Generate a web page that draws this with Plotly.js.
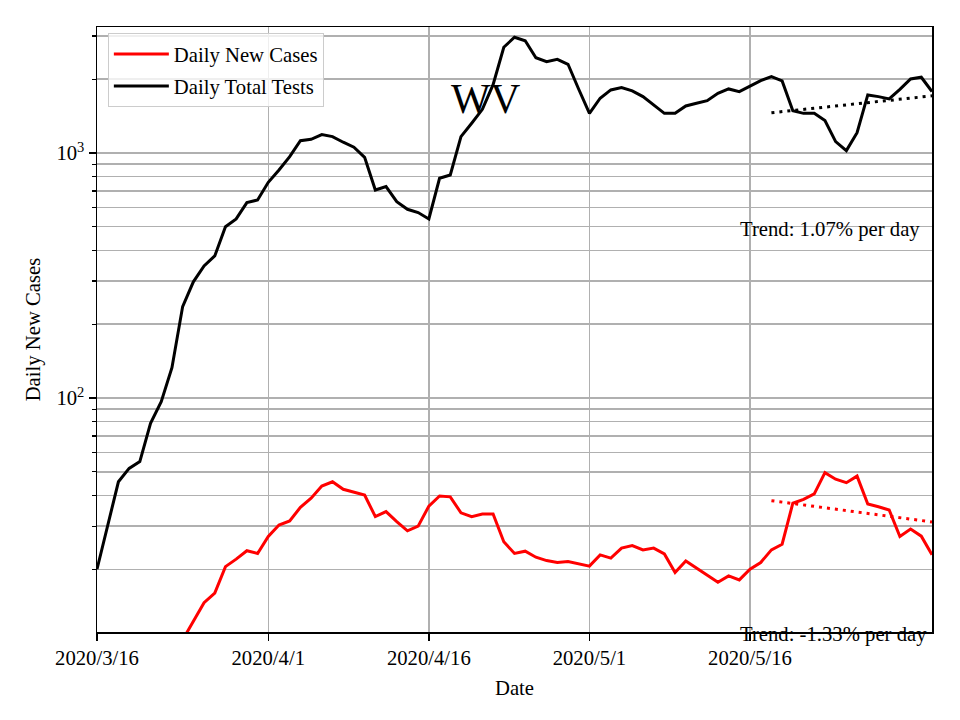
<!DOCTYPE html>
<html>
<head>
<meta charset="utf-8">
<script src="https://cdn.plot.ly/plotly-3.0.1.min.js"></script>
<style>html,body{margin:0;padding:0;background:#fff}#chart{width:960px;height:720px}</style>
</head>
<body>
<div id="chart"></div>
<script>
// Daily dates 2020-03-16 .. 2020-06-02
const startDate = '2020-03-16';
const nDays = 79;
const dates = [];
for (let i = 0; i < nDays; i++) {
  const d = new Date(Date.UTC(2020, 2, 16 + i));
  dates.push(d.toISOString().slice(0, 10));
}

// Daily Total Tests (from 2020-03-16)
const totalTests = [20.0, 30, 45.5, 51.6, 55, 78.8, 96.6, 133, 236, 298,
  346, 380, 500, 538, 627, 643, 759, 852, 966, 1122,
  1137, 1188, 1166, 1106, 1055, 960, 706, 729, 633, 589,
  571, 538, 788, 813, 1166, 1322, 1507, 1900, 2700, 2966,
  2870, 2447, 2358, 2411, 2301, 1819, 1451, 1672, 1808, 1848,
  1791, 1698, 1570, 1451, 1451, 1555, 1596, 1634, 1752, 1825,
  1780, 1878, 1974, 2048, 1967, 1488, 1451, 1451, 1355, 1112,
  1022, 1210, 1725, 1698, 1661, 1819, 2005, 2037, 1780];

// Daily New Cases (from 2020-03-24)
const casesStart = 8;
const newCases = [10.3, 12.3, 14.6, 16.0, 20.5, 22.0, 23.8, 23.2, 27.2, 30.3,
  31.5, 35.8, 39.0, 43.7, 45.5, 42.4, 41.2, 40.2, 32.8, 34.4,
  31.3, 28.7, 30.0, 36.2, 39.8, 39.5, 34.0, 32.8, 33.6, 33.6,
  25.9, 23.2, 23.7, 22.4, 21.7, 21.3, 21.5, 21.1, 20.6, 22.9,
  22.2, 24.4, 25.0, 24.0, 24.4, 23.1, 19.4, 21.6, 20.2, 19.0,
  17.7, 18.8, 18.1, 20.0, 21.3, 24.0, 25.3, 37.2, 38.6, 40.6,
  49.6, 46.6, 45.1, 48.0, 36.9, 36.0, 34.9, 27.2, 29.2, 27.3, 22.9];

// Trend fits (last 15 days), endpoints
const trendDates = ['2020-05-18', '2020-06-02'];
const testsTrend = [1459, 1710];
const casesTrend = [38.1, 31.2];
const testsTrendLabel = 'Trend: 1.07% per day';
const casesTrendLabel = 'Trend: -1.33% per day';
const stateLabel = 'WV';

// Axis ticks
const xTickVals = ['2020-03-16', '2020-04-01', '2020-04-16', '2020-05-01', '2020-05-16'];
const xTickText = ['2020/3/16', '2020/4/1', '2020/4/16', '2020/5/1', '2020/5/16'];
const yTickVals = [100, 1000];
const yTickText = ['10<sup>2</sup>', '10<sup>3</sup>'];
const yMinorVals = [20, 30, 40, 50, 60, 70, 80, 90, 200, 300, 400, 500, 600, 700, 800, 900, 2000, 3000];

const FONT = 'Liberation Serif, Times New Roman, serif';
const FS = 20.7;

const traces = [
  {x: dates.slice(casesStart), y: newCases, type: 'scatter', mode: 'lines', name: 'Daily New Cases',
   legendgroup: 'a', line: {color: '#ff0000', width: 3}},
  {x: dates, y: totalTests, type: 'scatter', mode: 'lines', name: 'Daily Total Tests',
   legendgroup: 'b', line: {color: '#000000', width: 3}},
  {x: trendDates, y: testsTrend, type: 'scatter', mode: 'lines', showlegend: false,
   line: {color: '#000000', width: 3, dash: '3px,5px'}},
  {x: trendDates, y: casesTrend, type: 'scatter', mode: 'lines', showlegend: false,
   line: {color: '#ff0000', width: 3, dash: '3px,5px'}}
];

const layout = {
  width: 960, height: 720,
  margin: {l: 97, r: 28, t: 27, b: 88},
  paper_bgcolor: '#ffffff', plot_bgcolor: '#ffffff',
  font: {family: FONT, size: FS, color: '#000'},
  showlegend: true,
  legend: {x: 0.013, y: 0.99, xanchor: 'left', yanchor: 'top',
    bgcolor: 'rgba(255,255,255,0.8)', bordercolor: '#cccccc', borderwidth: 1,
    itemwidth: 55, tracegroupgap: 2,
    font: {family: FONT, size: FS, color: '#000'}},
  xaxis: {
    type: 'date', range: ['2020-03-16', '2020-06-02'],
    tickmode: 'array', tickvals: xTickVals, ticktext: xTickText,
    ticks: 'outside', ticklen: 7, tickwidth: 1.5, tickcolor: '#000',
    showgrid: true, gridcolor: '#b0b0b0', gridwidth: 1.5,
    showline: true, linecolor: '#000', linewidth: 1.5, mirror: true,
    zeroline: false,
    tickfont: {family: FONT, size: FS, color: '#000'},
    title: {text: 'Date', font: {family: FONT, size: FS, color: '#000'}, standoff: 12}
  },
  yaxis: {
    type: 'log', range: [1.045, 3.514],
    tickmode: 'array', tickvals: yTickVals, ticktext: yTickText,
    ticks: 'outside', ticklen: 7, tickwidth: 1.5, tickcolor: '#000',
    showgrid: true, gridcolor: '#b0b0b0', gridwidth: 1.5,
    minor: {tickmode: 'array', tickvals: yMinorVals, ticks: 'outside', ticklen: 4, tickwidth: 1.2,
      tickcolor: '#000', showgrid: true, gridcolor: '#b0b0b0', gridwidth: 1.5},
    showline: true, linecolor: '#000', linewidth: 1.5, mirror: true,
    zeroline: false,
    tickfont: {family: FONT, size: FS, color: '#000'},
    title: {text: 'Daily New Cases', font: {family: FONT, size: FS, color: '#000'}, standoff: 10}
  },
  annotations: [
    {text: stateLabel, xref: 'paper', yref: 'paper', x: 0.4647, y: 0.881, xanchor: 'center', yanchor: 'middle',
     showarrow: false, font: {family: FONT, size: 41.7, color: '#000'}},
    {text: testsTrendLabel, xref: 'paper', yref: 'paper', x: 0.768, y: 0.665, xanchor: 'left', yanchor: 'middle',
     showarrow: false, font: {family: FONT, size: FS, color: '#000'}},
    {text: casesTrendLabel, xref: 'paper', yref: 'paper', x: 0.768, y: -0.004, xanchor: 'left', yanchor: 'middle',
     showarrow: false, font: {family: FONT, size: FS, color: '#000'}}
  ]
};

Plotly.newPlot('chart', traces, layout, {displayModeBar: false, staticPlot: true});
</script>
</body>
</html>
